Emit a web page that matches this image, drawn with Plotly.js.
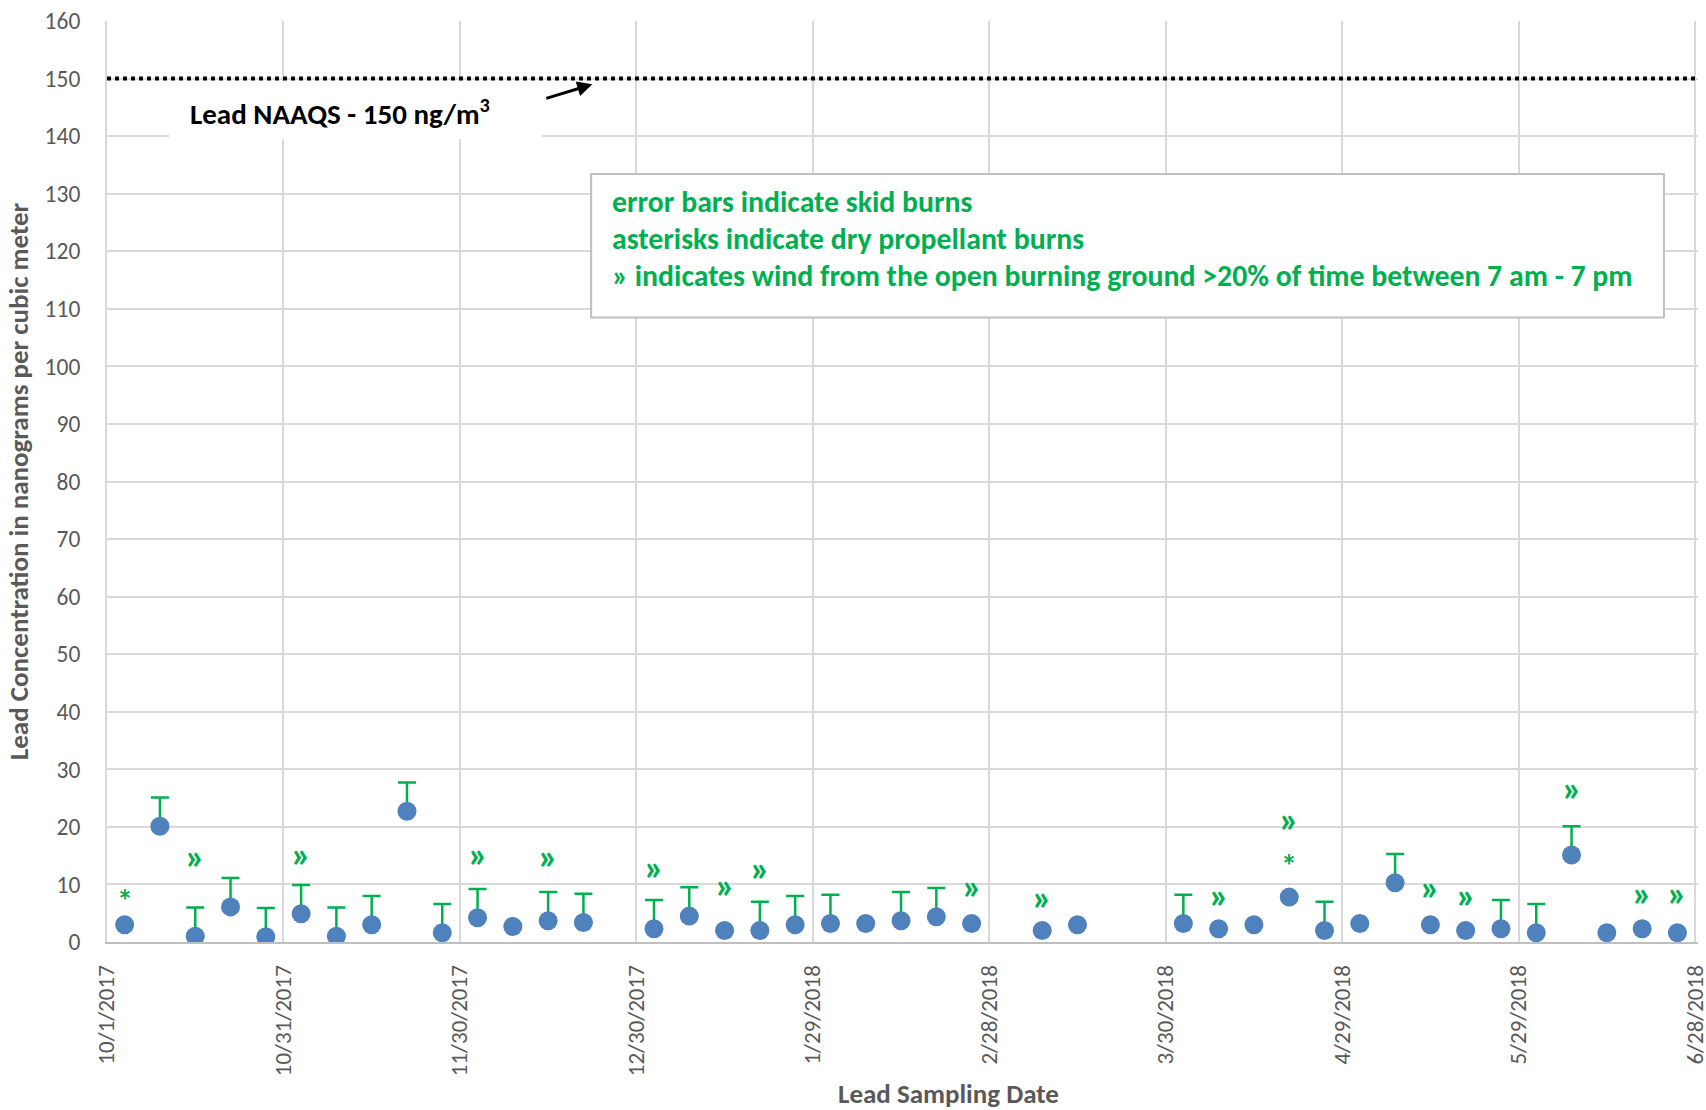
<!DOCTYPE html>
<html>
<head>
<meta charset="utf-8">
<script src="https://cdn.plot.ly/plotly-3.0.1.min.js"></script>
<style>
  html, body { margin: 0; padding: 0; background: #ffffff; }
  #chart { width: 1706px; height: 1110px; }
</style>
</head>
<body>
<div id="chart"></div>
<script>
// ---- Data ----
const sampleDates = [
  '2017-10-04','2017-10-10','2017-10-16','2017-10-22','2017-10-28',
  '2017-11-03','2017-11-09','2017-11-15','2017-11-21','2017-11-27',
  '2017-12-03','2017-12-09','2017-12-15','2017-12-21',
  '2018-01-02','2018-01-08','2018-01-14','2018-01-20','2018-01-26',
  '2018-02-01','2018-02-07','2018-02-13','2018-02-19','2018-02-25',
  '2018-03-09','2018-03-15',
  '2018-04-02','2018-04-08','2018-04-14','2018-04-20','2018-04-26',
  '2018-05-02','2018-05-08','2018-05-14','2018-05-20','2018-05-26',
  '2018-06-01','2018-06-07','2018-06-13','2018-06-19','2018-06-25'
];
const leadConc = [
  3.0, 20.1, 1.0, 6.1, 0.9,
  4.9, 1.0, 3.0, 22.7, 1.6,
  4.2, 2.7, 3.7, 3.4,
  2.3, 4.5, 2.0, 2.0, 3.0,
  3.2, 3.2, 3.7, 4.4, 3.2,
  2.0, 3.0,
  3.2, 2.3, 3.0, 7.8, 2.0,
  3.2, 10.3, 3.0, 2.0, 2.3,
  1.6, 15.1, 1.6, 2.3, 1.6
];
// skid burn error bars (upper length); null = no skid burn
const skidErrPlus = [
  null, 5, 5, 5, 5,
  5, 5, 5, 5, 5,
  5, null, 5, 5,
  5, 5, null, 5, 5,
  5, null, 5, 5, null,
  null, null,
  5, null, null, null, 5,
  null, 5, null, null, 5,
  5, 5, null, null, null
];
// "»" wind markers
const windDates = [
  '2017-10-16','2017-11-03','2017-12-03','2017-12-15','2018-01-02',
  '2018-01-14','2018-01-20','2018-02-25','2018-03-09','2018-04-08',
  '2018-04-20','2018-05-14','2018-05-20','2018-06-07','2018-06-19','2018-06-25'
];
const windY = [14.9, 15.2, 15.2, 14.8, 13.0, 9.8, 12.7, 9.7, 7.7, 8.0, 21.3, 9.5, 8.1, 26.7, 8.4, 8.4];
// "*" dry propellant burn markers
const asteriskDates = ['2017-10-04', '2018-04-20'];
const asteriskY = [8.1, 14.2];

const naaqs = 150;
const tickDates = ['2017-10-01','2017-10-31','2017-11-30','2017-12-30','2018-01-29',
                   '2018-02-28','2018-03-30','2018-04-29','2018-05-29','2018-06-28'];
const tickLabels = ['10/1/2017','10/31/2017','11/30/2017','12/30/2017','1/29/2018',
                    '2/28/2018','3/30/2018','4/29/2018','5/29/2018','6/28/2018'];
const legendLines = [
  'error bars indicate skid burns',
  'asterisks indicate dry propellant burns',
  '» indicates wind from the open burning ground >20% of time between 7 am - 7 pm'
];

// ---- Styles ----
const FONT = 'Carlito, Calibri, Lato, "Open Sans", sans-serif';
const GREEN = '#00B050';
const BLUE = '#4F81BD';
const GRAY_TXT = '#595959';

const traces = [
  {
    type: 'scatter', mode: 'markers',
    x: sampleDates, y: leadConc,
    marker: { color: BLUE, size: 19 },
    error_y: {
      type: 'data', symmetric: false,
      array: skidErrPlus,
      arrayminus: skidErrPlus.map(v => v === null ? null : 0),
      color: GREEN, thickness: 2.5, width: 9
    },
    hoverinfo: 'x+y'
  }
];

// legend box geometry (paper coords)
const boxX0 = 0.3043, boxX1 = 0.9786, boxY0 = 0.678, boxY1 = 0.834;
const lineYs = [0.8037, 0.7635, 0.7233];

const symbolAnn = (xs, ys, sym, size, yshift) => xs.map((d, i) => ({
  xref: 'x', yref: 'y', x: d, y: ys[i], text: sym, showarrow: false,
  xanchor: 'center', yanchor: 'middle', yshift: yshift,
  font: { family: FONT, size: size, color: GREEN, weight: 'bold' }
}));

const annotations = [
  {
    xref: 'paper', yref: 'paper', x: 0.1466, y: 0.9002,
    xanchor: 'center', yanchor: 'middle',
    text: 'Lead NAAQS - 150 ng/m<sup>3</sup>',
    showarrow: false,
    font: { family: FONT, size: 29, color: '#000000', weight: 'bold' }
  },
  {
    xref: 'paper', yref: 'y', x: 0.305, y: 149.0,
    text: ' ', showarrow: true, axref: 'pixel', ayref: 'pixel', ax: -49, ay: 15,
    arrowhead: 2, arrowsize: 1, arrowwidth: 3, arrowcolor: '#000000', standoff: 0
  },
  {
    xref: 'paper', yref: 'paper', x: 0.5288, y: -0.1644,
    xanchor: 'center', yanchor: 'middle', showarrow: false,
    text: 'Lead Sampling Date',
    font: { family: FONT, size: 27, color: GRAY_TXT, weight: 'bold' }
  }
].concat(legendLines.map((t, i) => ({
  xref: 'paper', yref: 'paper', x: 0.3162, y: lineYs[i],
  xanchor: 'left', yanchor: 'middle', text: t, showarrow: false,
  font: { family: FONT, size: 29.8, color: GREEN, weight: 'bold' }
})))
 .concat(symbolAnn(windDates, windY, '»', 37, 0))
 .concat(symbolAnn(asteriskDates, asteriskY, '*', 32, -6));

const layout = {
  width: 1706, height: 1110,
  margin: { l: 107, r: 8, t: 21, b: 167.5, pad: 0 },
  paper_bgcolor: '#ffffff', plot_bgcolor: '#ffffff',
  showlegend: false,
  font: { family: FONT, color: GRAY_TXT },
  xaxis: {
    type: 'date',
    range: [tickDates[0], '2018-06-28 12:00'],
    tickmode: 'array', tickvals: tickDates, ticktext: tickLabels,
    tickangle: -90, ticklabeloverflow: 'allow',
    tickfont: { family: FONT, size: 23, color: GRAY_TXT },
    showgrid: true, gridcolor: '#D9D9D9', gridwidth: 2,
    showline: true, linecolor: '#BFBFBF', linewidth: 2,
    ticks: '', ticklabelstandoff: 12,
    zeroline: false,
    automargin: false
  },
  yaxis: {
    range: [0, 160], dtick: 10, tick0: 0,
    tickfont: { family: FONT, size: 23.5, color: GRAY_TXT },
    showgrid: true, gridcolor: '#D9D9D9', gridwidth: 2,
    showline: true, linecolor: '#D9D9D9', linewidth: 2,
    ticks: '', ticklabelstandoff: 20,
    zeroline: false,
    title: { text: 'Lead Concentration in nanograms per cubic meter', standoff: 8,
             font: { family: FONT, size: 27, color: GRAY_TXT, weight: 'bold' } },
    automargin: false
  },
  shapes: [
    { type: 'line', xref: 'paper', x0: 0, x1: 1, yref: 'y', y0: naaqs, y1: naaqs,
      line: { color: '#000000', width: 4, dash: 'dot' } },
    { type: 'rect', xref: 'paper', yref: 'paper', x0: 0.039, x1: 0.2733, y0: 0.8716, y1: 0.9342,
      fillcolor: '#ffffff', line: { width: 0 } },
    { type: 'rect', xref: 'paper', yref: 'paper', x0: boxX0, x1: boxX1, y0: boxY0, y1: boxY1,
      fillcolor: '#ffffff', line: { color: '#BFBFBF', width: 2 } }
  ],
  annotations: annotations
};

Plotly.newPlot('chart', traces, layout, { displayModeBar: false, staticPlot: true });
</script>
</body>
</html>
